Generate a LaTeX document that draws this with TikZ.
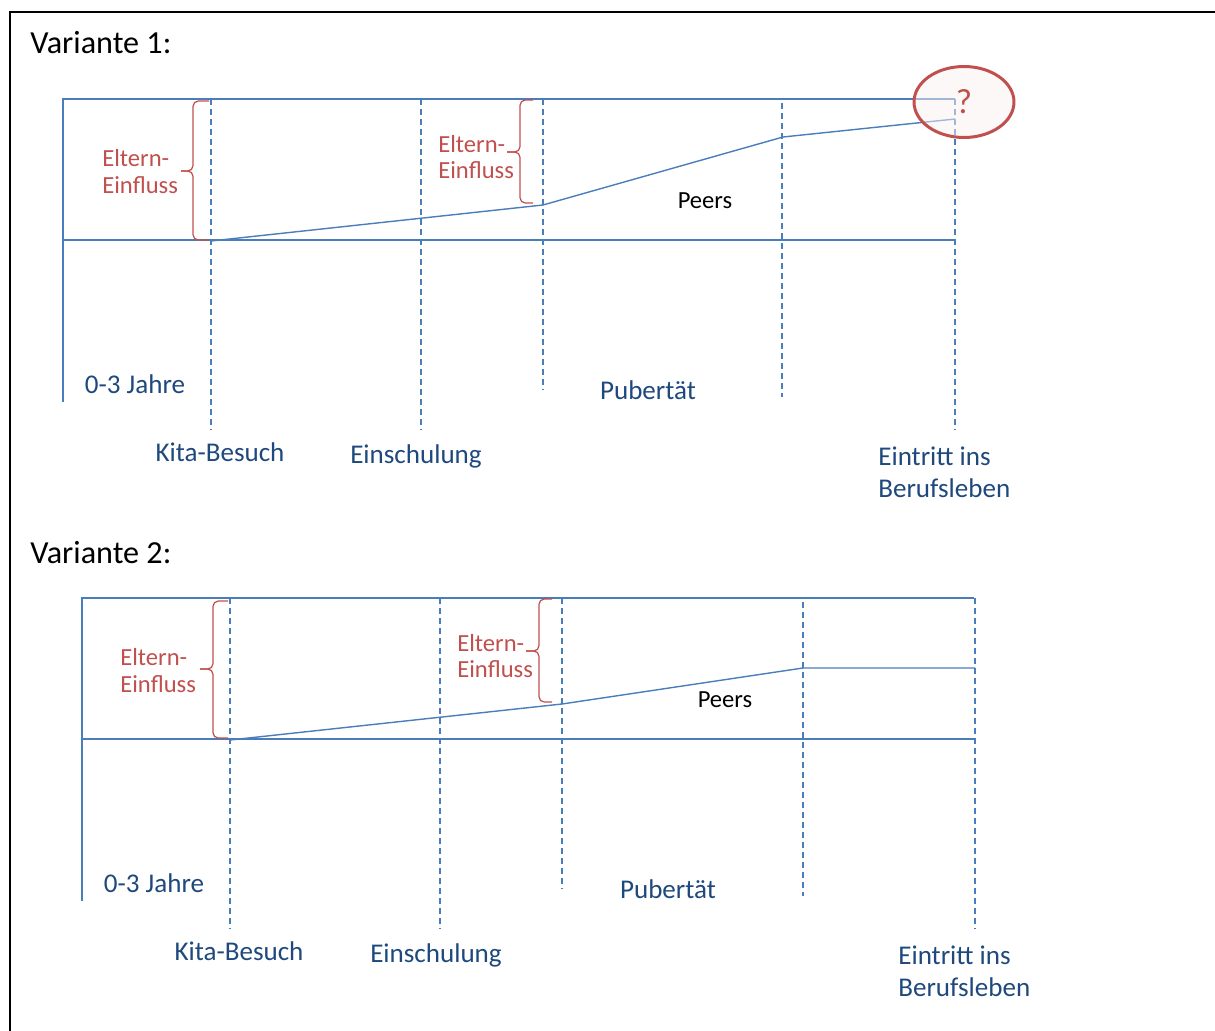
\documentclass[tikz,border=0pt]{standalone}
\usepackage{fontspec}
\setmainfont{Carlito}
\usetikzlibrary{shapes.geometric}
\definecolor{axisblue}{HTML}{4A7EBB}
\definecolor{labelblue}{HTML}{1F497D}
\definecolor{influencered}{HTML}{C0504D}
\tikzset{
  axis/.style={axisblue, line width=0.8pt},
  marker/.style={axisblue, line width=0.7pt, dash pattern=on 3.4pt off 2.3pt},
  stage/.style={labelblue, inner sep=0pt, font=\fontsize{15.4}{18}\selectfont},
  influence/.style={influencered, inner sep=0pt, anchor=west, align=left, font=\fontsize{14}{15.3}\selectfont},
  bracket/.style={influencered, line width=0.7pt, rounded corners=3pt},
  heading/.style={inner sep=0pt, anchor=west, font=\fontsize{18.3}{22}\selectfont},
}

\begin{document}
\begin{tikzpicture}[x=0.02cm, y=-0.02cm]
\useasboundingbox (0,0) rectangle (1215,1031);
\draw[line width=1.1pt] (1215,12) -- (10,12) -- (10,1031);

% Variante 1
\node[heading] (title1) at (30,43) {Variante 1:};
\begin{scope}
\draw[axis] (63,402) -- (63,99) -- (955,99);
\draw[axis] (63,240) -- (955,240);
\draw[marker] (211,99) -- (211,430);
\draw[marker] (421,99) -- (421,430);
\draw[marker] (543,99) -- (543,390);
\draw[marker] (782,103) -- (782,397);
\draw[marker] (955,99) -- (955,430);
\draw[axis] (211,241) -- (543,205) -- (783,137) -- (955,119);
\draw[bracket] (209,101) -- (193,101) -- (193,171) -- (181,171);
\draw[bracket] (181,171) -- (193,171) -- (193,240) -- (209,240);
\draw[bracket] (533,100) -- (520,100) -- (520,152) -- (507,152);
\draw[bracket] (507,152) -- (520,152) -- (520,203) -- (533,203);
\node[influence] (parents1a) at (102,171.5) {Eltern-\\Einfluss};
\node[influence] (parents1b) at (438,157) {Eltern-\\Einfluss};
\node[inner sep=0pt, font=\fontsize{14}{16}\selectfont] (peers1) at (705,201) {Peers};
\node[stage] (baby1) at (135,384) {0-3 Jahre};
\node[stage] (puberty1) at (648,390) {Pubertät};
\node[stage] (kita1) at (220,452) {Kita-Besuch};
\node[stage] (school1) at (416,456) {Einschulung};
\node[stage, anchor=west, align=left] (job1) at (878,472) {Eintritt ins\\Berufsleben};
\node[ellipse, draw=influencered, line width=1.7pt, fill=influencered!8, fill opacity=0.5,
  text opacity=1, minimum width=2cm, minimum height=1.42cm, inner sep=0pt,
  text=influencered, font=\fontsize{20}{24}\selectfont] (open1) at (964,102) {?};
\end{scope}

% Variante 2
\node[heading] (title2) at (30,553) {Variante 2:};
\begin{scope}[shift={(19,499)}]
\draw[axis] (63,402) -- (63,99) -- (955,99);
\draw[axis] (63,240) -- (955,240);
\draw[marker] (211,99) -- (211,430);
\draw[marker] (421,99) -- (421,430);
\draw[marker] (543,99) -- (543,390);
\draw[marker] (784,103) -- (784,397);
\draw[marker] (956,99) -- (956,430);
\draw[axis] (211,241) -- (543,205) -- (784,169) -- (956,169);
\draw[bracket] (209,102) -- (194,102) -- (194,170) -- (181,170);
\draw[bracket] (181,170) -- (194,170) -- (194,239) -- (209,239);
\draw[bracket] (533,100) -- (520,100) -- (520,152) -- (507,152);
\draw[bracket] (507,152) -- (520,152) -- (520,203) -- (533,203);
\node[influence] (parents2a) at (101,171.5) {Eltern-\\Einfluss};
\node[influence] (parents2b) at (438,157) {Eltern-\\Einfluss};
\node[inner sep=0pt, font=\fontsize{14}{16}\selectfont] (peers2) at (706,201) {Peers};
\node[stage] (baby2) at (135,384) {0-3 Jahre};
\node[stage] (puberty2) at (649,390) {Pubertät};
\node[stage] (kita2) at (220,452) {Kita-Besuch};
\node[stage] (school2) at (417,456) {Einschulung};
\node[stage, anchor=west, align=left] (job2) at (879,472) {Eintritt ins\\Berufsleben};
\end{scope}
\end{tikzpicture}
\end{document}
